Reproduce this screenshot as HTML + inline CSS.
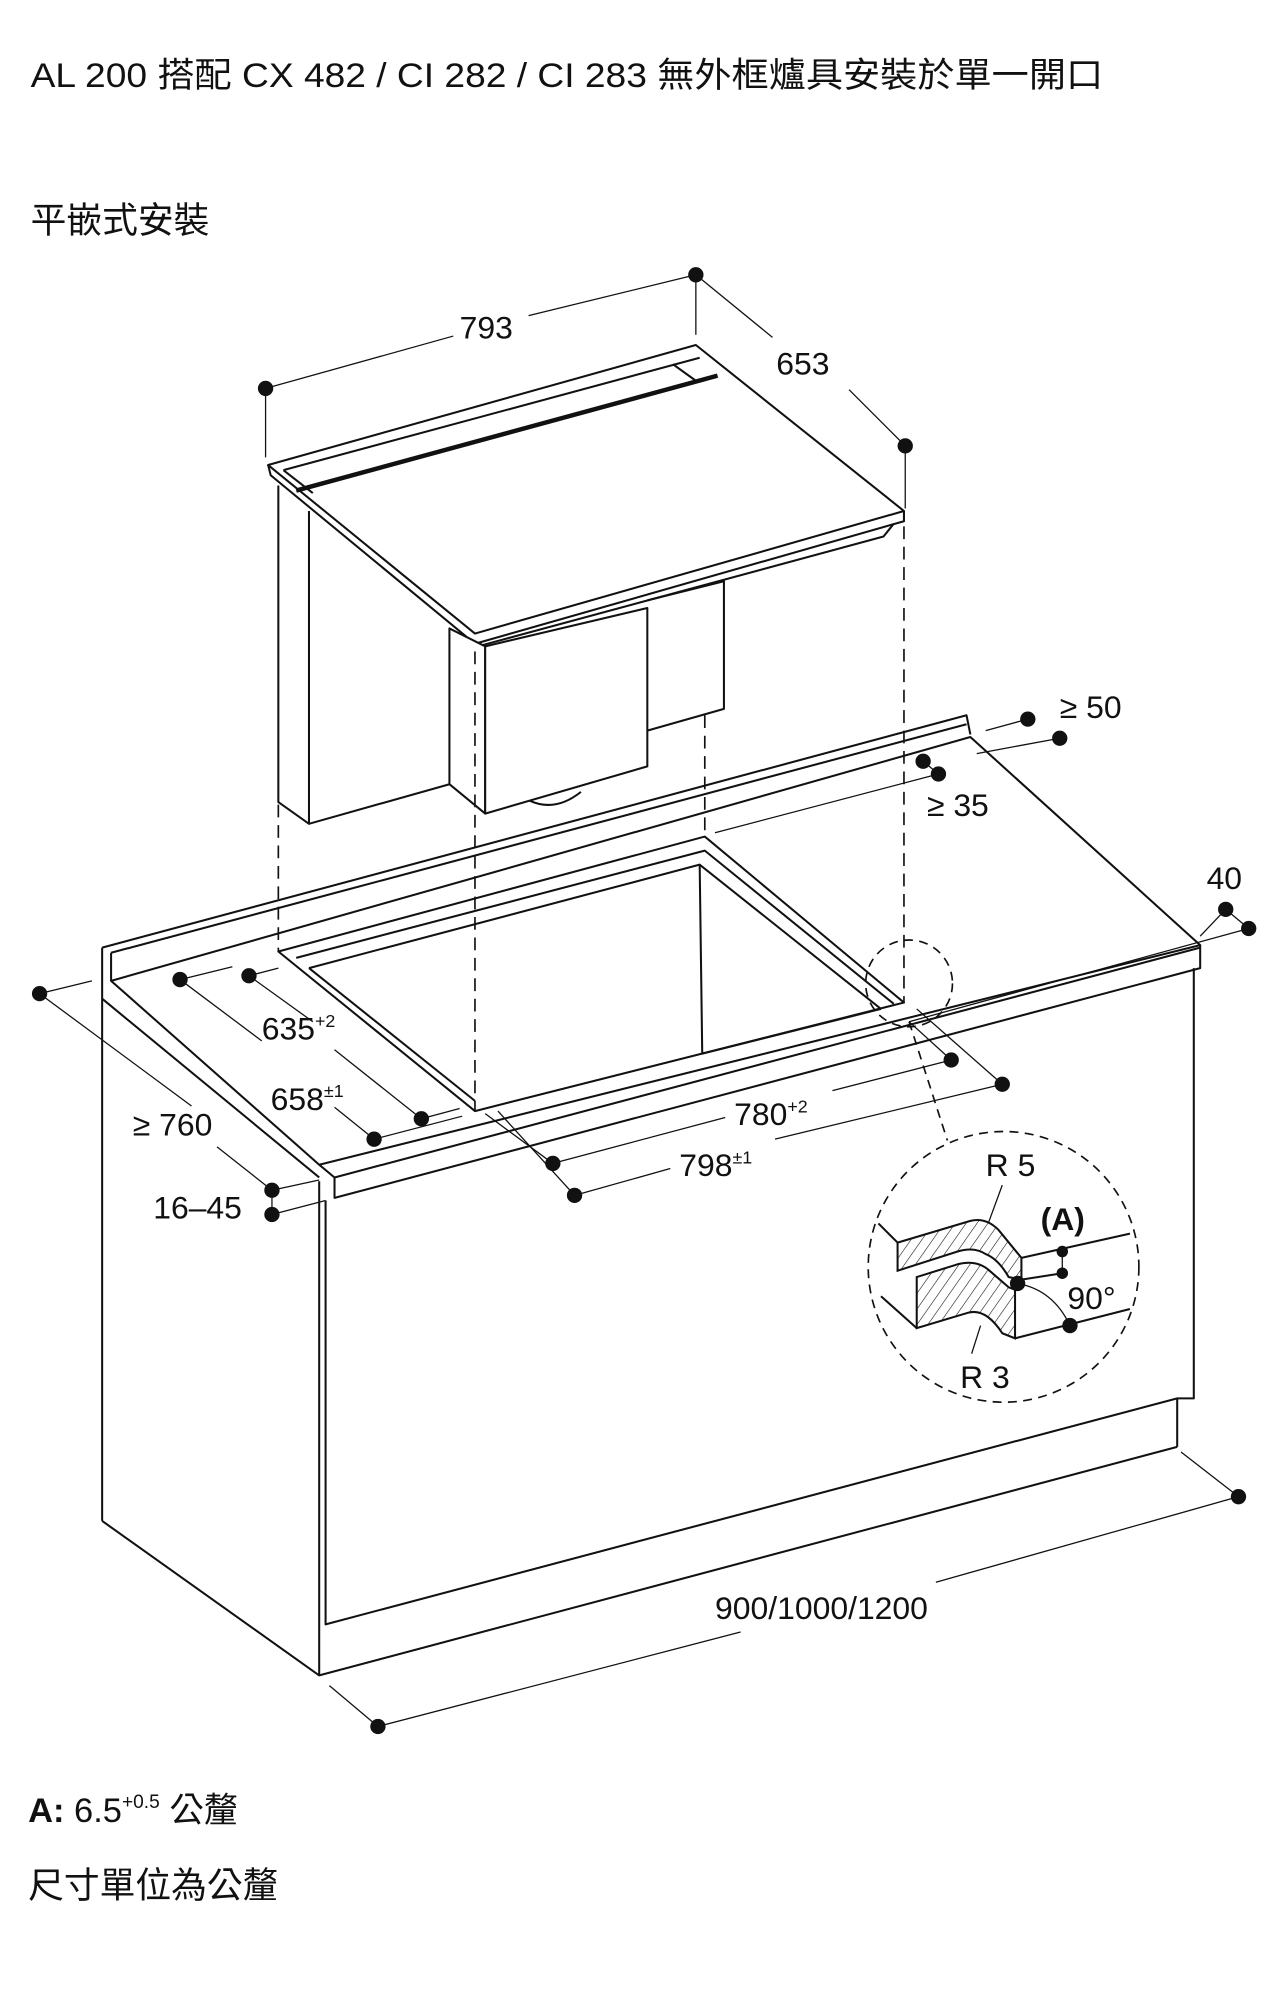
<!DOCTYPE html>
<html><head><meta charset="utf-8"><style>
html,body{margin:0;padding:0;background:#fff;}
svg{display:block;}
text{font-family:"Liberation Sans","Noto Sans CJK TC",sans-serif;fill:#111;}
</style></head><body>
<svg width="1287" height="2000" viewBox="0 0 1008 1566" xmlns="http://www.w3.org/2000/svg">
<defs>
<pattern id="h" width="7" height="7" patternUnits="userSpaceOnUse" patternTransform="rotate(35)">
<line x1="0" y1="0" x2="0" y2="7" stroke="#111" stroke-width="0.9"/>
</pattern>
</defs>
<text x="24" y="68" font-size="27" textLength="840" lengthAdjust="spacingAndGlyphs">AL 200 搭配 CX 482 / CI 282 / CI 283 無外框爐具安裝於單一開口</text>
<text x="24" y="182" font-size="28">平嵌式安裝</text>

<g fill="none" stroke="#111" stroke-width="1.6" stroke-linejoin="round">
<polygon points="210,364 545,270 708,400 372,496" fill="#fff"/>
<polyline points="210,364 212,372 372,504 708,408 708,400"/>
<polyline points="222,368 548,280"/>
<path d="M232,384 L562,294" stroke-width="3.5"/>
<polyline points="222,368 245,386"/>
<polyline points="527,285 545,298"/>
<polyline points="700,410 692,420 378,505"/>
<polyline points="218,380 218,628 242,645 242,400"/>
<polyline points="242,645 352,614"/>
<polyline points="507,470 567,455 567,555 507,572"/>
<polygon points="352,492 380,506 380,637 352,614" fill="#fff"/>
<polygon points="380,506 507,476 507,600 380,637" fill="#fff"/>
<path d="M415,627 Q435,636 455,620" />

<polyline points="80,742 757,560 760,575"/>
<polyline points="87,746 757,567"/>
<line x1="80" y1="742" x2="80" y2="1191"/>
<polyline points="87,746 87,768"/>
<polygon points="87,768 760,577 940,740 250,912"/>
<polyline points="250,912 262,922 262,938 940,758 940,740"/>
<line x1="262" y1="922" x2="940" y2="742"/>
<line x1="80" y1="782" x2="250" y2="922"/>
<line x1="250" y1="925" x2="250" y2="1312"/>
<polyline points="255,940 255,1272 922,1095"/>
<polyline points="935,758 935,1095 922,1095 922,1133"/>
<polyline points="80,1191 250,1312 922,1133"/>

<polygon points="218,745 552,655 708,785 372,870"/>
<polyline points="232,750 552,666 700,786"/>
<polyline points="242,758 548,677 690,790"/>
<polyline points="548,677 550,825 690,790"/>
<line x1="242" y1="758" x2="372" y2="862"/>
</g>

<g stroke="#111" stroke-width="1.3" stroke-dasharray="10,6" fill="none">
<line x1="218" y1="630" x2="218" y2="745"/>
<line x1="372" y1="510" x2="372" y2="870"/>
<line x1="552" y1="560" x2="552" y2="655"/>
<line x1="708" y1="412" x2="708" y2="785"/>
<circle cx="712" cy="770" r="34" stroke-dasharray="7,5"/>
<line x1="712" y1="800" x2="742" y2="893" stroke-dasharray="7,5"/>
<circle cx="786" cy="992" r="106" stroke-dasharray="7,5"/>
</g>

<g stroke="#111" stroke-width="1" fill="none">
<line x1="208" y1="304" x2="355" y2="263"/><line x1="414" y1="247" x2="545" y2="215"/>
<line x1="208" y1="304" x2="208" y2="358"/><line x1="545" y1="215" x2="545" y2="262"/>
<line x1="545" y1="215" x2="605" y2="264"/><line x1="665" y1="305" x2="709" y2="349"/>
<line x1="709" y1="349" x2="709" y2="398"/>
<line x1="772" y1="572" x2="805" y2="563"/><line x1="765" y1="590" x2="830" y2="578"/>
<line x1="723" y1="596" x2="735" y2="606"/><line x1="735" y1="606" x2="560" y2="652"/>
<line x1="960" y1="712" x2="978" y2="727"/><line x1="940" y1="733" x2="960" y2="712"/>
<line x1="978" y1="727" x2="712" y2="800"/>
<line x1="195" y1="764" x2="218" y2="758"/><line x1="195" y1="764" x2="245" y2="800"/>
<line x1="262" y1="822" x2="330" y2="876"/><line x1="330" y1="876" x2="360" y2="868"/>
<line x1="141" y1="767" x2="182" y2="757"/><line x1="141" y1="767" x2="205" y2="815"/>
<line x1="262" y1="867" x2="293" y2="892"/><line x1="293" y1="892" x2="362" y2="874"/>
<line x1="433" y1="911" x2="568" y2="875"/><line x1="652" y1="854" x2="745" y2="830"/>
<line x1="745" y1="830" x2="712" y2="800"/><line x1="380" y1="872" x2="433" y2="911"/>
<line x1="450" y1="936" x2="525" y2="915"/><line x1="607" y1="892" x2="785" y2="849"/>
<line x1="785" y1="849" x2="718" y2="790"/><line x1="390" y1="870" x2="450" y2="936"/>
<line x1="31" y1="778" x2="72" y2="768"/><line x1="31" y1="778" x2="150" y2="866"/>
<line x1="170" y1="898" x2="213" y2="932"/>
<line x1="213" y1="932" x2="250" y2="924"/><line x1="213" y1="951" x2="255" y2="940"/>
<line x1="213" y1="932" x2="213" y2="951"/>
<line x1="258" y1="1320" x2="296" y2="1352"/><line x1="296" y1="1352" x2="580" y2="1278"/>
<line x1="733" y1="1239" x2="970" y2="1172"/><line x1="925" y1="1137" x2="970" y2="1172"/>
</g>
<g fill="#111">
<circle cx="208" cy="304" r="6"/><circle cx="545" cy="215" r="6"/><circle cx="709" cy="349" r="6"/>
<circle cx="805" cy="563" r="6"/><circle cx="830" cy="578" r="6"/>
<circle cx="723" cy="596" r="6"/><circle cx="735" cy="606" r="6"/>
<circle cx="960" cy="712" r="6"/><circle cx="978" cy="727" r="6"/>
<circle cx="195" cy="764" r="6"/><circle cx="330" cy="876" r="6"/>
<circle cx="141" cy="767" r="6"/><circle cx="293" cy="892" r="6"/>
<circle cx="433" cy="911" r="6"/><circle cx="745" cy="830" r="6"/>
<circle cx="450" cy="936" r="6"/><circle cx="785" cy="849" r="6"/>
<circle cx="31" cy="778" r="6"/><circle cx="213" cy="932" r="6"/><circle cx="213" cy="951" r="6"/>
<circle cx="296" cy="1352" r="6"/><circle cx="970" cy="1172" r="6"/>
</g>

<g stroke="#111" stroke-width="1.6" fill="url(#h)">
<path d="M703,973 L760,956 Q772,953 782,963 L800,985 L800,1002 L790,1000 Q782,986 772,982 Q763,976 750,980 L703,995 Z"/>
<path d="M718,1000 L750,990 Q765,986 775,995 L790,1008 L795,1010 L795,1048 L785,1044 Q772,1024 758,1028 L718,1040 Z"/>
</g>
<g stroke="#111" stroke-width="1.6" fill="none">
<line x1="703" y1="973" x2="688" y2="958"/><line x1="718" y1="1040" x2="690" y2="1015"/>
<line x1="800" y1="985" x2="885" y2="966"/><line x1="800" y1="1002" x2="832" y2="997"/>
<line x1="795" y1="1048" x2="885" y2="1025"/>
</g>
<g stroke="#111" stroke-width="1" fill="none">
<line x1="832" y1="980" x2="832" y2="997"/>
<path d="M797,1005 Q825,1010 838,1038"/>
<line x1="785" y1="928" x2="774" y2="958"/>
<line x1="768" y1="1038" x2="761" y2="1060"/>
</g>
<g fill="#111">
<circle cx="832" cy="980" r="4.5"/><circle cx="832" cy="997" r="4.5"/>
<circle cx="797" cy="1005" r="6"/><circle cx="838" cy="1038" r="6"/>
</g>

<g font-size="25">
<text x="360" y="265">793</text>
<text x="608" y="293">653</text>
<text x="830" y="562">≥ 50</text>
<text x="726" y="639">≥ 35</text>
<text x="945" y="696">40</text>
<text x="205" y="814">635<tspan font-size="14" dy="-10">+2</tspan></text>
<text x="212" y="869">658<tspan font-size="14" dy="-10">±1</tspan></text>
<text x="575" y="881">780<tspan font-size="14" dy="-10">+2</tspan></text>
<text x="532" y="921">798<tspan font-size="14" dy="-10">±1</tspan></text>
<text x="104" y="889">≥ 760</text>
<text x="120" y="954">16–45</text>
<text x="560" y="1268">900/1000/1200</text>
<text x="772" y="921">R 5</text>
<text x="815" y="963" font-weight="bold">(A)</text>
<text x="836" y="1025">90°</text>
<text x="752" y="1087">R 3</text>
</g>
<text x="22" y="1427" font-size="27"><tspan font-weight="bold">A:</tspan> 6.5<tspan font-size="15" dy="-11">+0.5</tspan><tspan dy="11"> 公釐</tspan></text>
<text x="22" y="1486" font-size="28">尺寸單位為公釐</text>
</svg>
</body></html>
